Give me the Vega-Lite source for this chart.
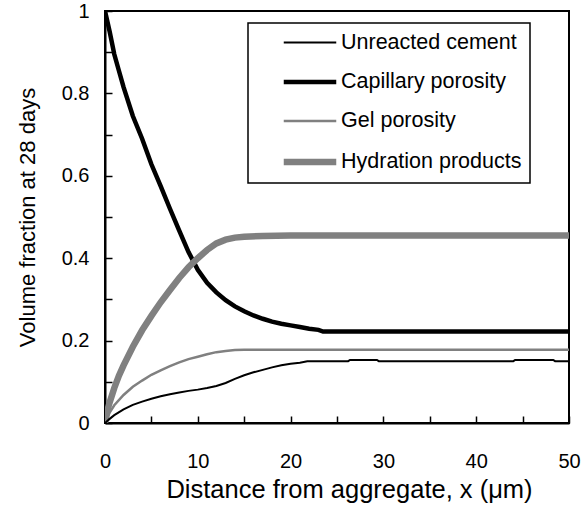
{
  "$schema": "https://vega.github.io/schema/vega-lite/v6.json",
  "width": 464,
  "height": 412,
  "autosize": {"type": "none"},
  "padding": {"left": 105, "top": 11, "right": 14, "bottom": 90},
  "background": "white",
  "config": {
    "font": "Liberation Sans",
    "view": {"stroke": "black", "strokeWidth": 2},
    "axis": {
      "grid": false,
      "domainColor": "black",
      "domainWidth": 2,
      "tickColor": "black",
      "tickWidth": 1.5,
      "tickSize": -7,
      "labelColor": "black",
      "labelFont": "Liberation Sans",
      "labelFontSize": 20,
      "labelFlush": false,
      "labelOverlap": false,
      "labelBound": false,
      "titleColor": "black",
      "titleFont": "Liberation Sans",
      "titleFontSize": 22,
      "titleFontWeight": "normal"
    },
    "legend": {
      "title": null,
      "orient": "none",
      "legendX": 143,
      "legendY": 12,
      "symbolType": "M-2.5,0H2.5",
      "symbolSize": 441,
      "symbolOffset": 40,
      "labelOffset": 17,
      "labelFontSize": 21.5,
      "labelFont": "Liberation Sans",
      "labelColor": "black",
      "padding": 8,
      "rowPadding": 16,
      "strokeColor": "black",
      "strokeWidth": 1.5,
      "fillColor": "white",
      "labelLimit": 400
    }
  },
  "datasets": {
    "profiles": [
      {"x": 0, "v": 1.0, "s": "Capillary porosity"},
      {"x": 0.5, "v": 0.95, "s": "Capillary porosity"},
      {"x": 1, "v": 0.895, "s": "Capillary porosity"},
      {"x": 1.5, "v": 0.855, "s": "Capillary porosity"},
      {"x": 2, "v": 0.815, "s": "Capillary porosity"},
      {"x": 3, "v": 0.745, "s": "Capillary porosity"},
      {"x": 4, "v": 0.69, "s": "Capillary porosity"},
      {"x": 5, "v": 0.628, "s": "Capillary porosity"},
      {"x": 6, "v": 0.575, "s": "Capillary porosity"},
      {"x": 7, "v": 0.52, "s": "Capillary porosity"},
      {"x": 8, "v": 0.467, "s": "Capillary porosity"},
      {"x": 9, "v": 0.415, "s": "Capillary porosity"},
      {"x": 10, "v": 0.372, "s": "Capillary porosity"},
      {"x": 11, "v": 0.34, "s": "Capillary porosity"},
      {"x": 12, "v": 0.317, "s": "Capillary porosity"},
      {"x": 13, "v": 0.298, "s": "Capillary porosity"},
      {"x": 14, "v": 0.283, "s": "Capillary porosity"},
      {"x": 15, "v": 0.271, "s": "Capillary porosity"},
      {"x": 16, "v": 0.261, "s": "Capillary porosity"},
      {"x": 17, "v": 0.253, "s": "Capillary porosity"},
      {"x": 18, "v": 0.246, "s": "Capillary porosity"},
      {"x": 19, "v": 0.241, "s": "Capillary porosity"},
      {"x": 20, "v": 0.237, "s": "Capillary porosity"},
      {"x": 21, "v": 0.233, "s": "Capillary porosity"},
      {"x": 22, "v": 0.229, "s": "Capillary porosity"},
      {"x": 23, "v": 0.226, "s": "Capillary porosity"},
      {"x": 23.5, "v": 0.222, "s": "Capillary porosity"},
      {"x": 30, "v": 0.222, "s": "Capillary porosity"},
      {"x": 40, "v": 0.222, "s": "Capillary porosity"},
      {"x": 50, "v": 0.222, "s": "Capillary porosity"},

      {"x": 0, "v": 0, "s": "Gel porosity"},
      {"x": 0.5, "v": 0.025, "s": "Gel porosity"},
      {"x": 1, "v": 0.043, "s": "Gel porosity"},
      {"x": 2, "v": 0.068, "s": "Gel porosity"},
      {"x": 3, "v": 0.088, "s": "Gel porosity"},
      {"x": 4, "v": 0.103, "s": "Gel porosity"},
      {"x": 5, "v": 0.117, "s": "Gel porosity"},
      {"x": 6, "v": 0.128, "s": "Gel porosity"},
      {"x": 7, "v": 0.138, "s": "Gel porosity"},
      {"x": 8, "v": 0.147, "s": "Gel porosity"},
      {"x": 9, "v": 0.155, "s": "Gel porosity"},
      {"x": 10, "v": 0.161, "s": "Gel porosity"},
      {"x": 11, "v": 0.167, "s": "Gel porosity"},
      {"x": 12, "v": 0.172, "s": "Gel porosity"},
      {"x": 13, "v": 0.175, "s": "Gel porosity"},
      {"x": 14, "v": 0.177, "s": "Gel porosity"},
      {"x": 15, "v": 0.178, "s": "Gel porosity"},
      {"x": 30, "v": 0.178, "s": "Gel porosity"},
      {"x": 50, "v": 0.178, "s": "Gel porosity"},

      {"x": 0, "v": 0, "s": "Hydration products"},
      {"x": 0.25, "v": 0.03, "s": "Hydration products"},
      {"x": 0.5, "v": 0.05, "s": "Hydration products"},
      {"x": 1, "v": 0.085, "s": "Hydration products"},
      {"x": 1.5, "v": 0.115, "s": "Hydration products"},
      {"x": 2, "v": 0.14, "s": "Hydration products"},
      {"x": 3, "v": 0.185, "s": "Hydration products"},
      {"x": 4, "v": 0.225, "s": "Hydration products"},
      {"x": 5, "v": 0.26, "s": "Hydration products"},
      {"x": 6, "v": 0.293, "s": "Hydration products"},
      {"x": 7, "v": 0.323, "s": "Hydration products"},
      {"x": 8, "v": 0.352, "s": "Hydration products"},
      {"x": 9, "v": 0.378, "s": "Hydration products"},
      {"x": 10, "v": 0.4, "s": "Hydration products"},
      {"x": 11, "v": 0.42, "s": "Hydration products"},
      {"x": 12, "v": 0.436, "s": "Hydration products"},
      {"x": 13, "v": 0.445, "s": "Hydration products"},
      {"x": 14, "v": 0.45, "s": "Hydration products"},
      {"x": 15, "v": 0.452, "s": "Hydration products"},
      {"x": 17, "v": 0.454, "s": "Hydration products"},
      {"x": 20, "v": 0.455, "s": "Hydration products"},
      {"x": 30, "v": 0.455, "s": "Hydration products"},
      {"x": 40, "v": 0.455, "s": "Hydration products"},
      {"x": 50, "v": 0.455, "s": "Hydration products"},

      {"x": 0, "v": 0, "s": "Unreacted cement"},
      {"x": 0.5, "v": 0.01, "s": "Unreacted cement"},
      {"x": 1, "v": 0.019, "s": "Unreacted cement"},
      {"x": 2, "v": 0.033, "s": "Unreacted cement"},
      {"x": 3, "v": 0.044, "s": "Unreacted cement"},
      {"x": 4, "v": 0.052, "s": "Unreacted cement"},
      {"x": 5, "v": 0.059, "s": "Unreacted cement"},
      {"x": 6, "v": 0.065, "s": "Unreacted cement"},
      {"x": 7, "v": 0.07, "s": "Unreacted cement"},
      {"x": 8, "v": 0.074, "s": "Unreacted cement"},
      {"x": 9, "v": 0.078, "s": "Unreacted cement"},
      {"x": 10, "v": 0.081, "s": "Unreacted cement"},
      {"x": 11, "v": 0.085, "s": "Unreacted cement"},
      {"x": 12, "v": 0.09, "s": "Unreacted cement"},
      {"x": 13, "v": 0.097, "s": "Unreacted cement"},
      {"x": 14, "v": 0.107, "s": "Unreacted cement"},
      {"x": 15, "v": 0.116, "s": "Unreacted cement"},
      {"x": 16, "v": 0.123, "s": "Unreacted cement"},
      {"x": 17, "v": 0.129, "s": "Unreacted cement"},
      {"x": 18, "v": 0.135, "s": "Unreacted cement"},
      {"x": 19, "v": 0.14, "s": "Unreacted cement"},
      {"x": 20, "v": 0.144, "s": "Unreacted cement"},
      {"x": 21, "v": 0.146, "s": "Unreacted cement"},
      {"x": 21.8, "v": 0.15, "s": "Unreacted cement"},
      {"x": 26.2, "v": 0.15, "s": "Unreacted cement"},
      {"x": 26.4, "v": 0.153, "s": "Unreacted cement"},
      {"x": 29.3, "v": 0.153, "s": "Unreacted cement"},
      {"x": 29.5, "v": 0.15, "s": "Unreacted cement"},
      {"x": 44, "v": 0.15, "s": "Unreacted cement"},
      {"x": 44.2, "v": 0.153, "s": "Unreacted cement"},
      {"x": 48.3, "v": 0.153, "s": "Unreacted cement"},
      {"x": 48.5, "v": 0.15, "s": "Unreacted cement"},
      {"x": 50, "v": 0.15, "s": "Unreacted cement"}
    ]
  },
  "data": {"name": "profiles"},
  "mark": {"type": "line", "clip": true},
  "encoding": {
    "x": {
      "field": "x",
      "type": "quantitative",
      "scale": {"domain": [0, 50], "nice": false, "zero": false},
      "axis": {
        "values": [0, 5, 10, 15, 20, 25, 30, 35, 40, 45, 50],
        "format": "~g",
        "labelExpr": "datum.value % 10 === 0 ? datum.label : ''",
        "labelPadding": 35,
        "title": "Distance from aggregate, x (μm)",
        "titleFontSize": 25.5,
        "titleBaseline": "middle",
        "titleX": 244,
        "titleY": 66
      }
    },
    "y": {
      "field": "v",
      "type": "quantitative",
      "scale": {"domain": [0, 1], "nice": false},
      "axis": {
        "values": [0, 0.1, 0.2, 0.3, 0.4, 0.5, 0.6, 0.7, 0.8, 0.9, 1],
        "format": "~g",
        "labelExpr": "round(datum.value * 10) % 2 === 0 ? datum.label : ''",
        "labelPadding": 23,
        "title": "Volume fraction at 28 days",
        "titleBaseline": "middle",
        "titleX": -78,
        "titleY": 206
      }
    },
    "color": {
      "field": "s",
      "type": "nominal",
      "scale": {
        "type": "ordinal",
        "domain": ["Unreacted cement", "Capillary porosity", "Gel porosity", "Hydration products"],
        "range": ["#000000", "#000000", "#808080", "#808080"]
      },
      "legend": {
        "labelExpr": "datum.label + '\u00a0\u00a0\u00a0\u00a0\u00a0'"
      }
    },
    "strokeWidth": {
      "field": "s",
      "type": "nominal",
      "scale": {
        "type": "ordinal",
        "domain": ["Unreacted cement", "Capillary porosity", "Gel porosity", "Hydration products"],
        "range": [2, 4.5, 2.5, 6.5]
      },
      "legend": {
        "labelExpr": "datum.label + '\u00a0\u00a0\u00a0\u00a0\u00a0'"
      }
    }
  }
}
